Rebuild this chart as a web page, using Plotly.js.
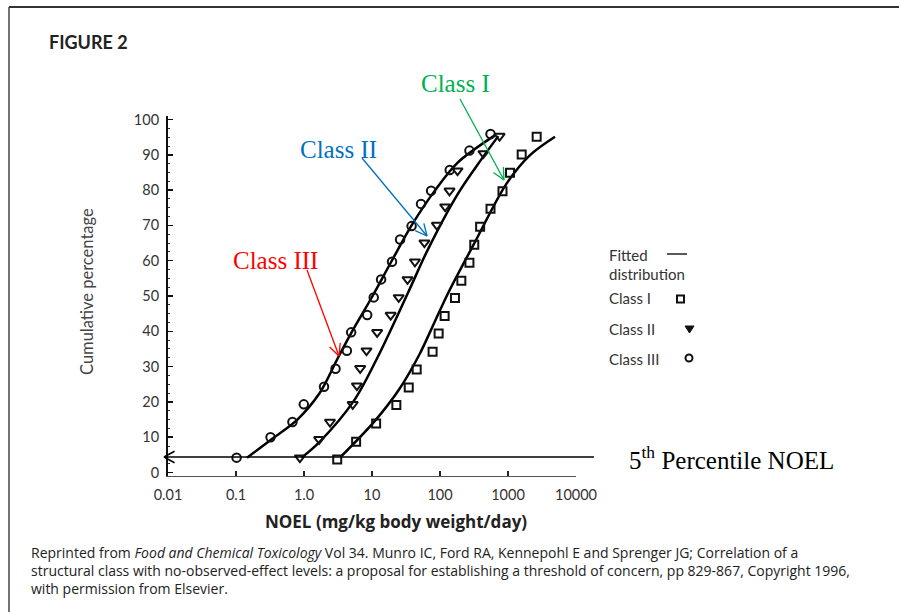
<!DOCTYPE html>
<html><head><meta charset="utf-8">
<script src="https://cdn.plot.ly/plotly-3.0.1.min.js"></script>
<style>html,body{margin:0;padding:0;background:#fff}#chart{width:899px;height:612px}</style>
</head><body><div id="chart"></div>
<script>
// ---- data (NOEL in mg/kg bw/day, cumulative %) ----
const classI_noel = [3.08,5.84,11.5,22.8,34.7,45.4,77.8,95.5,117,166,206,271,319,389,553,830,1070,1590,2640];
const classI_pct  = [3.7,8.7,13.9,19.1,24.1,29.2,34.2,39.4,44.3,49.4,54.3,59.4,64.5,69.6,74.7,79.7,84.9,90.1,95.1];
const classII_noel = [0.87,1.67,2.41,5.2,6.0,6.7,8.3,11.9,18.8,24.7,33.3,42.8,59,90,119,138,181,435,752];
const classII_pct  = [4.2,9.4,14.3,19.3,24.6,29.5,34.5,39.7,44.6,49.6,54.7,59.7,65.1,70.1,75.3,79.8,85.5,90.4,95.3];
const classIII_noel = [0.102,0.322,0.676,0.993,1.97,2.91,4.27,4.94,8.5,10.6,13.6,19.7,25.9,38.2,52.6,74,139,271,553];
const classIII_pct  = [4.2,10.0,14.3,19.3,24.3,29.4,34.5,39.7,44.6,49.6,54.7,59.7,66.0,69.8,76.1,79.8,85.7,91.2,95.9];
// fitted distribution curves
const fitI_noel = [3.5,10.8,25,50,85,133,319,957,2110,4910];
const fitI_pct  = [4.5,14.4,23.5,33.5,43.0,51.0,64.9,81.9,89.9,95.1];
const fitII_noel = [0.92,1.7,5.5,12.2,34,67.6,185,398,720];
const fitII_pct  = [4.2,8.7,20.5,32.8,51.0,63.5,79.1,88.5,95.3];
const fitIII_noel = [0.145,0.35,0.8,1.7,3.16,4.94,10.2,19.2,38.2,85,182,640];
const fitIII_pct  = [4.2,9.7,15.0,22.5,32.5,39.5,50.0,59.7,70.0,80.0,87.8,95.5];
// axis ticks
const xTickVals = [0.01,0.1,1,10,100,1000,10000];
const xTickText = ['0.01','0.1','1.0','10','100','1000','10000'];
const yTickVals = [0,10,20,30,40,50,60,70,80,90,100];
// caption lines
const captionLines = [
  'Reprinted from <i>Food and Chemical Toxicology</i> Vol 34. Munro IC, Ford RA, Kennepohl E and Sprenger JG; Correlation of a',
  'structural class with no-observed-effect levels: a proposal for establishing a threshold of concern, pp 829-867, Copyright 1996,',
  'with permission from Elsevier.'
];

// ---- layout helpers (pixel -> paper) ----
const W = 899, H = 612, ML = 168, MR = 899-576, MT = 116, MB = 612-476;
const PW = W-ML-MR, PH = H-MT-MB;
const px = x => (x-ML)/PW;
const py = y => (H-MB-y)/PH;

const shapes = [];
function seg(x0,y0,x1,y1,color,width){
  shapes.push({type:'line',xref:'paper',yref:'paper',x0:px(x0),y0:py(y0),x1:px(x1),y1:py(y1),line:{color:color,width:width}});
}
function arrow(tx,ty,hx,hy,color,width,len,ang){
  seg(tx,ty,hx,hy,color,width);
  const dx=hx-tx, dy=hy-ty, d=Math.hypot(dx,dy), ux=dx/d, uy=dy/d;
  [ang,-ang].forEach(a=>{
    const c=Math.cos(a), s=Math.sin(a);
    const rx = -(ux*c - uy*s), ry = -(ux*s + uy*c);
    seg(hx,hy,hx+rx*len,hy+ry*len,color,width);
  });
}
// frame of the scanned figure
seg(9,7,899,7,'#333',2);
seg(9,7,9,612,'#444',1.5);
// annotation arrows
arrow(460,99,504,180,'#00B050',1.3,13,0.45);
arrow(362,158,427,236,'#0070C0',1.3,13,0.45);
arrow(307,270,339,356,'#FF0000',1.3,13,0.45);
arrow(594,457,164,457,'#000',1.5,12,0.5);
// legend glyphs
seg(667,254,687,254,'#222',1.5);
shapes.push({type:'rect',xref:'paper',yref:'paper',x0:px(677),x1:px(684),y0:py(302.5),y1:py(295.5),line:{color:'#111',width:2}});
shapes.push({type:'path',xref:'paper',yref:'paper',path:`M${px(685)},${py(326)} L${px(694)},${py(326)} L${px(689.5)},${py(333)} Z`,fillcolor:'#111',line:{color:'#111',width:1}});
shapes.push({type:'circle',xref:'paper',yref:'paper',x0:px(685.5),x1:px(692.5),y0:py(361.5),y1:py(354.5),line:{color:'#111',width:2}});

const sans = 'Lato, "Open Sans", sans-serif';
const wide = '"Open Sans", Lato, sans-serif';
const serif = '"Liberation Serif", "Times New Roman", serif';
function ann(text,x,y,size,color,opts){
  return Object.assign({text:text,xref:'paper',yref:'paper',x:px(x),y:py(y),showarrow:false,
    xanchor:'left',yanchor:'middle',font:{family:sans,size:size,color:color}},opts||{});
}
const annotations = [
  ann('<b>FIGURE 2</b>',47,42,18,'#222'),
  ann('Cumulative percentage',87,292,16.5,'#444',{xanchor:'center',textangle:-90}),
  ann('<b>NOEL (mg/kg body weight/day)</b>',396,521,17,'#222',{xanchor:'center',font:{family:wide,size:17,color:'#222'}}),
  ann('Fitted',607,255,15,'#333'),
  ann('distribution',607,274,15,'#333'),
  ann('Class I',607,298,15,'#333'),
  ann('Class II',607,329,15,'#333'),
  ann('Class III',607,359,15,'#333'),
  ann('Class I',455,83,25,'#00B050',{xanchor:'center',font:{family:serif,size:25,color:'#00B050'}}),
  ann('Class II',338,149,25,'#0070C0',{xanchor:'center',font:{family:serif,size:25,color:'#0070C0'}}),
  ann('Class III',275,260,25,'#FF0000',{xanchor:'center',font:{family:serif,size:25,color:'#FF0000'}}),
  ann('5<sup>th</sup> Percentile NOEL',627,458,25,'#000',{font:{family:serif,size:25,color:'#000'}}),
  ann(captionLines.join('<br>'),29,570,14,'#222',{align:'left',font:{family:wide,size:14,color:'#222'}})
];

const curveLine = {color:'#000',width:2.5,shape:'spline',smoothing:0.9};
const traces = [
  {x:fitI_noel,y:fitI_pct,mode:'lines',line:curveLine,name:'Fitted I',hoverinfo:'skip'},
  {x:fitII_noel,y:fitII_pct,mode:'lines',line:curveLine,name:'Fitted II',hoverinfo:'skip'},
  {x:fitIII_noel,y:fitIII_pct,mode:'lines',line:curveLine,name:'Fitted III',hoverinfo:'skip'},
  {x:classI_noel,y:classI_pct,mode:'markers',name:'Class I',
   marker:{symbol:'square-open',size:8,color:'#111',line:{width:2,color:'#111'}}},
  {x:classII_noel,y:classII_pct,mode:'markers',name:'Class II',
   marker:{symbol:'triangle-down-open',size:9,color:'#111',line:{width:2,color:'#111'}}},
  {x:classIII_noel,y:classIII_pct,mode:'markers',name:'Class III',
   marker:{symbol:'circle-open',size:8.5,color:'#111',line:{width:2,color:'#111'}}}
];

const layout = {
  width:W,height:H,
  margin:{l:ML,r:MR,t:MT,b:MB,pad:0},
  paper_bgcolor:'#fff',plot_bgcolor:'rgba(0,0,0,0)',
  showlegend:false,
  font:{family:sans,color:'#333'},
  xaxis:{type:'log',range:[-2,4],showgrid:false,zeroline:false,
    showline:true,linecolor:'#555',linewidth:1,
    tickmode:'array',tickvals:xTickVals,ticktext:xTickText,
    ticks:'inside',ticklen:5,tickwidth:1.5,tickcolor:'#222',
    tickfont:{family:sans,size:14.5,color:'#333'},ticklabelstandoff:6},
  yaxis:{range:[-1,101],showgrid:false,zeroline:false,
    showline:true,linecolor:'#111',linewidth:2,
    tickmode:'array',tickvals:yTickVals,
    ticks:'inside',ticklen:5,tickwidth:1.5,tickcolor:'#111',
    minor:{dtick:2.5,ticks:'inside',ticklen:2,tickwidth:1,tickcolor:'#333'},
    tickfont:{family:sans,size:14.5,color:'#333'},ticklabelstandoff:4},
  shapes:shapes,
  annotations:annotations
};
Plotly.newPlot('chart',traces,layout,{staticPlot:true,displayModeBar:false});
</script>
</body></html>
